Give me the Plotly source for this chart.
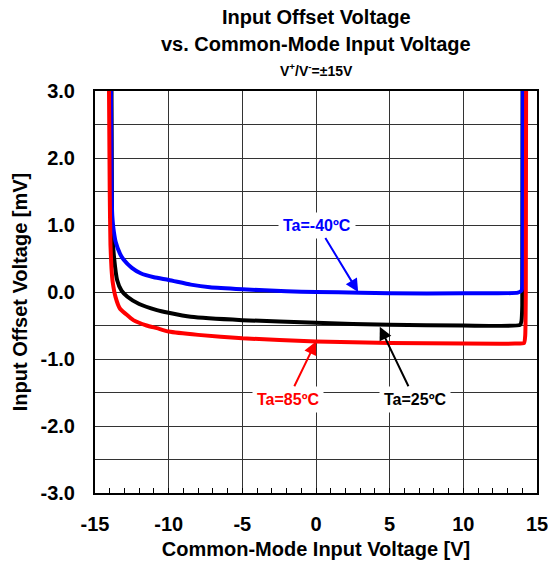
import plotly.graph_objects as go

# Common-mode input voltage [V] and input offset voltage [mV]
vcm_m40 = [-13.92, -13.88, -13.85, -13.80, -13.72, -13.60, -13.30, -13.05, -12.50, -11.90,
           -11.00, -10.00, -8.50, -7.20, -5.00, -2.00, 0.00, 3.00, 5.00, 10.00, 13.70,
           13.95, 14.00, 14.03, 14.04]
vos_m40 = [3.00, 1.80, 1.27, 1.05, 0.90, 0.75, 0.57, 0.48, 0.36, 0.28,
           0.22, 0.18, 0.11, 0.07, 0.04, 0.01, 0.00, -0.01, -0.02, -0.02, -0.01,
           0.02, 0.07, 0.60, 3.00]

vcm_25 = [-13.88, -13.85, -13.80, -13.70, -13.50, -13.20, -12.80, -12.00, -10.80, -10.00,
          -8.50, -5.00, 0.00, 5.00, 10.00, 13.85, 13.95, 14.00, 14.02]
vos_25 = [3.00, 1.20, 0.80, 0.50, 0.18, 0.02, -0.07, -0.18, -0.27, -0.31,
          -0.37, -0.42, -0.46, -0.49, -0.50, -0.49, -0.43, -0.20, 3.00]

vcm_85 = [-14.05, -14.00, -13.95, -13.88, -13.80, -13.60, -13.30, -12.90, -12.40, -11.50,
          -10.80, -10.00, -8.00, -5.00, 0.00, 5.00, 10.00, 13.50, 14.12, 14.20,
          14.24, 14.26]
vos_85 = [3.00, 1.50, 0.70, 0.35, 0.15, -0.08, -0.25, -0.33, -0.42, -0.50,
          -0.54, -0.59, -0.64, -0.69, -0.74, -0.76, -0.77, -0.77, -0.76, -0.65,
          0.00, 3.00]

x_ticks = [-15, -10, -5, 0, 5, 10, 15]
y_ticks = [3.0, 2.5, 2.0, 1.5, 1.0, 0.5, 0.0, -0.5, -1.0, -1.5, -2.0, -2.5, -3.0]
y_tick_text = ["3.0", "", "2.0", "", "1.0", "", "0.0", "", "-1.0", "", "-2.0", "", "-3.0"]

FONT = "Liberation Sans, Arial, sans-serif"

fig = go.Figure()
fig.add_trace(go.Scatter(x=vcm_25, y=vos_25, mode="lines",
                         line=dict(color="black", width=4, shape="spline", smoothing=0.5),
                         showlegend=False))
fig.add_trace(go.Scatter(x=vcm_m40, y=vos_m40, mode="lines",
                         line=dict(color="#0000FF", width=4, shape="spline", smoothing=0.5),
                         showlegend=False))
fig.add_trace(go.Scatter(x=vcm_85, y=vos_85, mode="lines",
                         line=dict(color="#FF0000", width=4, shape="spline", smoothing=0.5),
                         showlegend=False))

def label(text, color, hx, hy, tx, ty):
    fig.add_annotation(x=hx, y=hy, ax=tx, ay=ty, xref="x", yref="y", axref="x", ayref="y",
                       text=f"<b>{text}</b>", showarrow=True, arrowhead=2, arrowsize=1.3,
                       arrowwidth=2, arrowcolor=color, bgcolor="white", borderpad=4,
                       font=dict(family=FONT, size=16, color=color))

label("Ta=-40ºC", "#0000FF", 2.86, 0.0, 0.1, 1.0)
label("Ta=85ºC", "#FF0000", 0.0, -0.74, -1.9, -1.6)
label("Ta=25ºC", "black", 4.33, -0.52, 6.7, -1.6)

for txt, yy, sz in [("<b>Input Offset Voltage</b>", 1.184, 20),
                    ("<b>vs. Common-Mode Input Voltage</b>", 1.117, 20),
                    ("<b>V<sup>+</sup>/V<sup>-</sup>=±15V</b>", 1.052, 14)]:
    fig.add_annotation(x=0.5, y=yy, xref="paper", yref="paper", text=txt, showarrow=False,
                       xanchor="center", yanchor="middle",
                       font=dict(family=FONT, size=sz, color="black"))

fig.update_xaxes(range=[-15, 15], tickvals=x_ticks, ticktext=[f"<b>{v}</b>" for v in x_ticks],
                 showgrid=True, gridcolor="#333333", gridwidth=1,
                 ticks="inside", ticklen=5, tickcolor="black",
                 minor=dict(dtick=1, ticks="inside", ticklen=5, tickcolor="black", showgrid=False),
                 showline=True, linecolor="black", linewidth=2, mirror=True,
                 zeroline=False, automargin=False, ticklabeloverflow="allow",
                 ticklabelstandoff=12,
                 tickfont=dict(family=FONT, size=20, color="black"),
                 title=dict(text="<b>Common-Mode Input Voltage [V]</b>", standoff=8,
                            font=dict(family=FONT, size=20, color="black")))
fig.update_yaxes(range=[-3, 3], tickvals=y_ticks, ticktext=[f"<b>{t}</b>" if t else "" for t in y_tick_text],
                 showgrid=True, gridcolor="#333333", gridwidth=1,
                 showline=True, linecolor="black", linewidth=2, mirror=True,
                 zeroline=False, automargin=False, ticklabelstandoff=14,
                 ticklabeloverflow="allow",
                 tickfont=dict(family=FONT, size=20, color="black"),
                 title=dict(text="<b>Input Offset Voltage [mV]</b>", standoff=8,
                            font=dict(family=FONT, size=20, color="black")))

fig.update_layout(width=548, height=567, margin=dict(l=95, r=11, t=91, b=74),
                  plot_bgcolor="white", paper_bgcolor="white")

fig.write_html("out.html", config={"displayModeBar": False},
               post_script="document.body.style.margin='0';")
